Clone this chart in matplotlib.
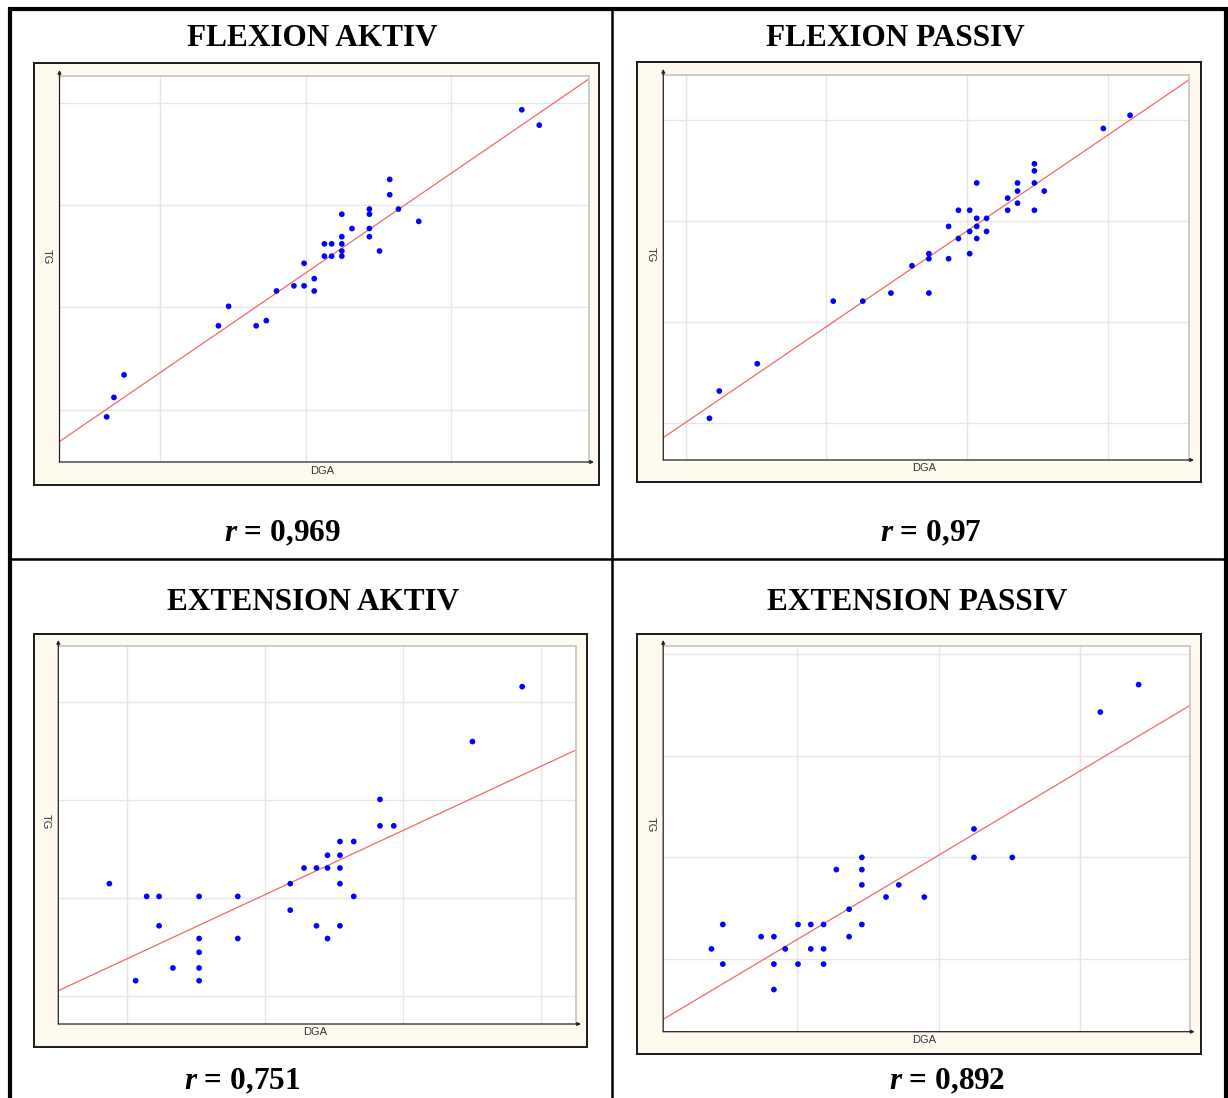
import numpy as np
import matplotlib
matplotlib.use("Agg")
import matplotlib.pyplot as plt
from matplotlib.lines import Line2D
from matplotlib.patches import Rectangle

plt.rcParams['mathtext.fontset'] = 'custom'
plt.rcParams['mathtext.rm'] = 'Liberation Serif:bold'
plt.rcParams['mathtext.bfit'] = 'Liberation Serif:italic:bold'
plt.rcParams['mathtext.it'] = 'Liberation Serif:italic:bold'

# ---------------- data (arbitrary units) ----------------
titles = ["FLEXION AKTIV", "FLEXION PASSIV", "EXTENSION AKTIV", "EXTENSION PASSIV"]
r_values = ["0,969", "0,97", "0,751", "0,892"]

flex_aktiv_dga = [34.9, 36.1, 25.8, 25.8, 26.4, 24.4, 24.4, 22.5, 27.8, 23.2, 24.4, 24.4,
                  22.5, 21.3, 21.8, 22.5, 22.5, 25.1, 21.3, 21.8, 22.5, 19.9, 20.6, 19.2,
                  19.9, 20.6, 18.0, 14.7, 14.0, 16.6, 17.3, 7.5, 6.8, 6.3]
flex_aktiv_tg = [39.3, 37.8, 32.5, 31.0, 29.6, 29.6, 29.1, 29.1, 28.4, 27.7, 27.7, 26.9,
                 26.9, 26.2, 26.2, 26.2, 25.5, 25.5, 25.0, 25.0, 25.0, 24.3, 22.8, 22.1,
                 22.1, 21.6, 21.6, 20.1, 18.2, 18.2, 18.7, 13.4, 11.2, 9.3]

flex_passiv_dga = [41.6, 39.7, 34.8, 34.8, 30.7, 33.6, 34.8, 33.6, 35.5, 32.9, 33.6, 29.4,
                   30.2, 32.9, 34.8, 30.7, 31.4, 28.7, 30.7, 30.2, 31.4, 29.4, 30.7, 27.3,
                   30.2, 26.1, 27.3, 28.7, 24.6, 27.3, 20.5, 22.6, 15.1, 12.4, 11.7]
flex_passiv_tg = [40.5, 39.2, 35.7, 35.0, 33.8, 33.8, 33.8, 33.0, 33.0, 32.3, 31.8, 31.1,
                  31.1, 31.1, 31.1, 30.3, 30.3, 29.5, 29.5, 29.0, 29.0, 28.3, 28.3, 26.8,
                  26.8, 25.6, 26.3, 26.3, 22.9, 22.9, 22.1, 22.1, 15.9, 13.2, 10.5]

ext_aktiv_dga = [38.6, 35.0, 28.3, 28.3, 29.3, 25.4, 26.4, 24.5, 25.4, 22.8, 23.7, 24.5,
                 25.4, 21.8, 25.4, 8.7, 11.4, 12.3, 15.2, 18.0, 26.4, 21.8, 12.3, 23.7,
                 25.4, 15.2, 18.0, 24.5, 15.2, 13.3, 15.2, 10.6, 15.2]
ext_aktiv_tg = [41.6, 36.0, 30.1, 27.4, 27.4, 25.8, 25.8, 24.4, 24.4, 23.1, 23.1, 23.1,
                23.1, 21.5, 21.5, 21.5, 20.2, 20.2, 20.2, 20.2, 20.2, 18.8, 17.2, 17.2,
                17.2, 15.9, 15.9, 15.9, 14.5, 12.9, 12.9, 11.6, 11.6]

ext_passiv_dga = [34.1, 31.4, 22.5, 22.5, 25.2, 14.6, 12.8, 14.6, 14.6, 17.2, 16.3, 19.0,
                  13.7, 4.8, 10.1, 11.0, 11.9, 14.6, 7.5, 8.4, 13.7, 4.0, 9.2, 11.0,
                  11.9, 4.8, 8.4, 10.1, 11.9, 8.4]
ext_passiv_tg = [37.0, 34.3, 22.8, 20.0, 20.0, 20.0, 18.8, 18.8, 17.3, 17.3, 16.1, 16.1,
                 14.9, 13.4, 13.4, 13.4, 13.4, 13.4, 12.2, 12.2, 12.2, 11.0, 11.0, 11.0,
                 11.0, 9.5, 9.5, 9.5, 9.5, 7.0]

# regression lines (slope, intercept) as drawn in the picture
fit_slope = [0.971, 0.948, 0.655, 0.832]
fit_intercept = [3.93, 0.60, 7.30, 3.57]

# axis ranges and grid positions
x_limits = [(3.05, 39.53), (8.42, 45.79), (5.0, 42.5), (0.6, 37.7)]
y_limits = [(4.89, 42.6), (6.37, 44.49), (7.18, 45.75), (2.85, 40.8)]
x_grid = [[10, 20, 30], [10, 20, 30, 40], [10, 20, 30, 40], [10, 20, 30]]
y_grid = [[10, 20, 30, 40], [10, 20, 30, 40], [10, 20, 30, 40], [10, 20, 30, 40]]

xs = [flex_aktiv_dga, flex_passiv_dga, ext_aktiv_dga, ext_passiv_dga]
ys = [flex_aktiv_tg, flex_passiv_tg, ext_aktiv_tg, ext_passiv_tg]

# ---------------- layout (pixels) ----------------
W, H = 1228, 1098
fig = plt.figure(figsize=(W / 100, H / 100), dpi=100)
fig.patch.set_facecolor('white')


def fx(px):
    return px / W


def fy(py):
    return 1 - py / H


# plot areas: left, right, top, bottom
plot_boxes = [(59.5, 589, 76, 462), (663.3, 1189, 75, 460),
              (58.3, 576, 646, 1024), (663.2, 1189.7, 646, 1031.7)]
frame_boxes = [(33.7, 599.3, 63.3, 484.5), (637.4, 1201, 62.3, 482.3),
               (33.6, 587.4, 634, 1046.7), (637.4, 1200.7, 634, 1054)]
title_pos = [(312.5, 38), (895.5, 38), (313, 602), (917.5, 602)]
r_pos = [(282.5, 534), (930.5, 534), (242.5, 1082), (947, 1082)]
tg_pos = [(47, 257), (651, 255), (46, 822), (651, 825)]
dga_pos = [(322, 471), (924, 468), (315, 1032), (924, 1040)]

cream = '#fefaee'
for i in range(4):
    l, r, t, b = frame_boxes[i]
    fig.add_artist(Rectangle((fx(l), fy(b)), fx(r) - fx(l), fy(t) - fy(b),
                             transform=fig.transFigure, facecolor=cream,
                             edgecolor='#1a1a1a', lw=1.4, zorder=-5))

    l, r, t, b = plot_boxes[i]
    ax = fig.add_axes([fx(l), fy(b), fx(r) - fx(l), fy(t) - fy(b)])
    ax.set_facecolor('white')
    ax.set_xlim(*x_limits[i])
    ax.set_ylim(*y_limits[i])
    ax.set_xticks(x_grid[i])
    ax.set_yticks(y_grid[i])
    ax.tick_params(length=0, labelbottom=False, labelleft=False)
    ax.grid(True, color='#e6e6e6', lw=1.0)
    ax.set_axisbelow(True)
    for s in ('top', 'right'):
        ax.spines[s].set_color('#c8c8c8')
        ax.spines[s].set_linewidth(1.3)
    for s in ('left', 'bottom'):
        ax.spines[s].set_visible(False)
    # axes with arrows
    ax.annotate('', xy=(0, 1 + 6 / (b - t)), xytext=(0, 0), xycoords='axes fraction',
                arrowprops=dict(arrowstyle='-|>', lw=0.9, color='#222222',
                                mutation_scale=5, shrinkA=0, shrinkB=0),
                annotation_clip=False)
    ax.annotate('', xy=(1 + 5 / (r - l), 0), xytext=(0, 0), xycoords='axes fraction',
                arrowprops=dict(arrowstyle='-|>', lw=0.9, color='#222222',
                                mutation_scale=5, shrinkA=0, shrinkB=0),
                annotation_clip=False)

    xl = np.array(x_limits[i])
    ax.plot(xl, fit_slope[i] * xl + fit_intercept[i], color='#f26868', lw=0.9, zorder=2)
    ax.scatter(xs[i], ys[i], s=17, color='#0000ff', edgecolors='none', zorder=3)

    fig.text(fx(title_pos[i][0]), fy(title_pos[i][1]), titles[i], ha='center', va='center',
             fontsize=22.5, fontweight='bold', family='Liberation Serif')
    fig.text(fx(r_pos[i][0]), fy(r_pos[i][1]), r'$\mathbfit{r}$ = ' + r_values[i],
             ha='center', va='center', fontsize=22.5, fontweight='bold',
             family='Liberation Serif')
    fig.text(fx(tg_pos[i][0]), fy(tg_pos[i][1]), 'TG', rotation=270, ha='center',
             va='center', fontsize=8, family='Liberation Sans', color='#333333')
    fig.text(fx(dga_pos[i][0]), fy(dga_pos[i][1]), 'DGA', ha='center', va='center',
             fontsize=8, family='Liberation Sans', color='#333333')

# ---------------- table lines ----------------
def hline(y, x0, x1, lw):
    fig.add_artist(Line2D([fx(x0), fx(x1)], [fy(y), fy(y)], transform=fig.transFigure,
                          color='black', lw=lw, solid_capstyle='butt'))


def vline(x, y0, y1, lw):
    fig.add_artist(Line2D([fx(x), fx(x)], [fy(y0), fy(y1)], transform=fig.transFigure,
                          color='black', lw=lw, solid_capstyle='butt'))

hline(9.3, 8, 1228, 3.0)
vline(10, 7.5, 1098, 3.0)
vline(1225.5, 7.5, 1098, 3.0)
vline(612, 9, 1098, 1.8)
hline(558.5, 10, 1226, 1.8)

fig.savefig('out.png', dpi=100)
